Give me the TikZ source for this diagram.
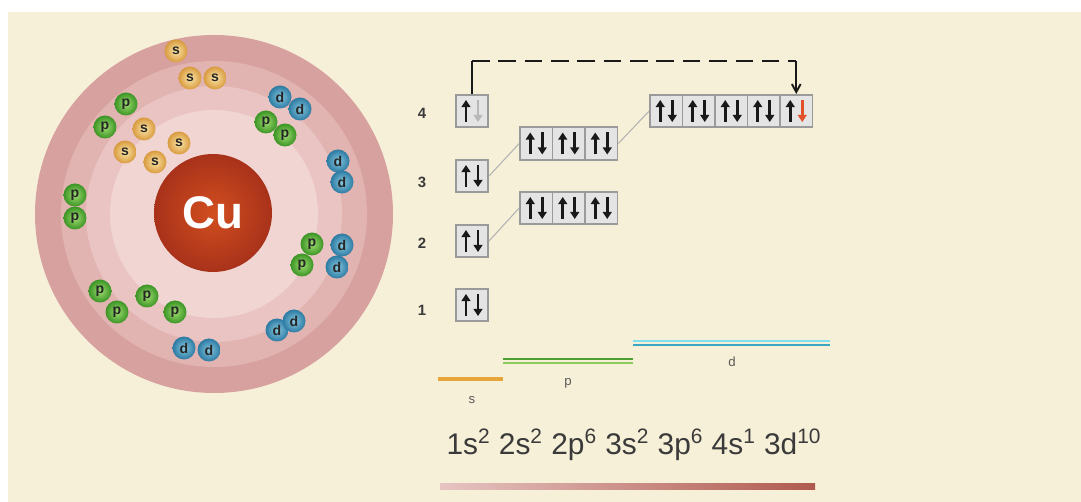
\documentclass[tikz,border=0pt]{standalone}
\usepackage{fontspec}
\setmainfont{Liberation Sans}
\usetikzlibrary{arrows.meta,calc}

\definecolor{cream}{HTML}{F7F0D8}
\definecolor{ringA}{HTML}{D7A19F}
\definecolor{ringB}{HTML}{E1B3B1}
\definecolor{ringC}{HTML}{E9C4C2}
\definecolor{ringD}{HTML}{F0D5D2}
\definecolor{nucIn}{HTML}{D24E1F}
\definecolor{nucOut}{HTML}{A8321A}
\definecolor{sIn}{HTML}{FCE6A8}
\definecolor{sOut}{HTML}{D89A3E}
\definecolor{pIn}{HTML}{A0DC70}
\definecolor{pOut}{HTML}{3A9424}
\definecolor{dIn}{HTML}{86C8E0}
\definecolor{dOut}{HTML}{2C7AA2}
\definecolor{boxfill}{HTML}{E4E4E4}
\definecolor{boxline}{HTML}{9A9A9A}
\definecolor{emptyspin}{HTML}{B8B8B8}
\definecolor{redspin}{HTML}{E2502A}
\definecolor{sline}{HTML}{E6A63A}
\definecolor{pdark}{HTML}{4C9E30}
\definecolor{plight}{HTML}{8CCB5E}
\definecolor{dlight}{HTML}{7EE0EE}
\definecolor{ddark}{HTML}{3AA6C0}
\definecolor{barL}{HTML}{E6C4C2}
\definecolor{barR}{HTML}{B05A4E}
\definecolor{inktext}{HTML}{3A3A3A}

% up/down spin arrows inside an orbital box
\newcommand\spinpair[3]{%
  \draw[spin,#2] ($(#1)+(-6,11)$) -- ($(#1)+(-6,-11)$);
  \draw[spin,#3] ($(#1)+(6,-11)$) -- ($(#1)+(6,11)$);}

\begin{document}
\begin{tikzpicture}[x=0.02cm,y=-0.02cm,
  electron/.style={circle, minimum size=0.46cm, inner sep=0pt,
    font=\fontsize{8}{8}\selectfont\bfseries, text=black!85},
  sel/.style={electron, inner color=sIn, outer color=sOut},
  pel/.style={electron, inner color=pIn, outer color=pOut},
  del/.style={electron, inner color=dIn, outer color=dOut},
  orbbox/.style={draw=boxline, fill=boxfill, line width=0.9pt,
    minimum width=0.65cm, minimum height=0.65cm, inner sep=0pt},
  spin/.style={line width=1.5pt, black!90, -{Triangle[length=4pt,width=5pt]}},
  lvl/.style={font=\fontsize{8.5}{8.5}\selectfont\bfseries, text=inktext},
  sublbl/.style={font=\fontsize{7.5}{8}\selectfont, text=black!65},
  link/.style={line width=1.1pt, black!90},
  guide/.style={line width=0.6pt, black!30},
]
\useasboundingbox (0,0) rectangle (1081,502);
\fill[white] (0,0) rectangle (1081,502);
\fill[cream] (8,12) rectangle (1081,502);

% ---- atom shells ----
\fill[ringA] (214,214) circle (179);
\fill[ringB] (214,214) circle (153);
\fill[ringC] (214,214) circle (128);
\fill[ringD] (214,214) circle (104);
\node[circle, minimum size=2.36cm, inner sep=0pt, inner color=nucIn, outer color=nucOut,
  text=white, font=\fontsize{26}{26}\selectfont\bfseries] (nuc) at (213,213) {Cu};

% s electrons
\node[sel] (e1) at (176,51) {s};
\node[sel] (e2) at (190,78) {s};
\node[sel] (e3) at (215,78) {s};
\node[sel] (e4) at (144,129) {s};
\node[sel] (e5) at (179,143) {s};
\node[sel] (e6) at (125,152) {s};
\node[sel] (e7) at (155,162) {s};
% p electrons
\node[pel] (e8) at (126,104) {p};
\node[pel] (e9) at (105,127) {p};
\node[pel] (e10) at (75,195) {p};
\node[pel] (e11) at (75,218) {p};
\node[pel] (e12) at (100,291) {p};
\node[pel] (e13) at (117,312) {p};
\node[pel] (e14) at (147,296) {p};
\node[pel] (e15) at (175,312) {p};
\node[pel] (e16) at (312,244) {p};
\node[pel] (e17) at (302,265) {p};
\node[pel] (e18) at (266,122) {p};
\node[pel] (e19) at (285,135) {p};
% d electrons
\node[del] (e20) at (184,348) {d};
\node[del] (e21) at (209,350) {d};
\node[del] (e22) at (277,330) {d};
\node[del] (e23) at (294,321) {d};
\node[del] (e24) at (342,245) {d};
\node[del] (e25) at (337,267) {d};
\node[del] (e26) at (338,161) {d};
\node[del] (e27) at (342,182) {d};
\node[del] (e28) at (280,97) {d};
\node[del] (e29) at (300,109) {d};

% ---- orbital diagram ----
\node[lvl] (l4) at (422,113) {4};
\node[lvl] (l3) at (422,182) {3};
\node[lvl] (l2) at (422,243) {2};
\node[lvl] (l1) at (422,310) {1};

\node[orbbox] (s4) at (472,111) {};
\node[orbbox] (s3) at (472,176) {};
\node[orbbox] (s2) at (472,241) {};
\node[orbbox] (s1) at (472,305) {};

\foreach \i/\x in {a/536.25,b/568.75,c/601.25}{
  \node[orbbox] (p3\i) at (\x,143.5) {};
  \node[orbbox] (p2\i) at (\x,208) {};
}
\foreach \i/\x in {1/666.25,2/698.75,3/731.25,4/763.75,5/796.25}{
  \node[orbbox] (d\i) at (\x,111) {};
}

% guide lines between sublevels
\draw[guide] (s2.east) -- (p2a.west);
\draw[guide] (s3.east) -- (p3a.west);
\draw[guide] (p3c.east) -- (d1.west);

% spins
\spinpair{s4}{}{emptyspin}
\spinpair{s3}{}{}
\spinpair{s2}{}{}
\spinpair{s1}{}{}
\foreach \i in {a,b,c}{\spinpair{p3\i}{}{}\spinpair{p2\i}{}{}}
\foreach \i in {1,2,3,4}{\spinpair{d\i}{}{}}
\spinpair{d5}{}{redspin}

% electron transfer 4s -> 3d
\coordinate (top) at (0,61);
\draw[link] (s4.north) -- (s4.north |- top) coordinate (tl);
\draw[link, dash pattern=on 10pt off 5pt] (tl) -- (d5.north |- top) coordinate (tr);
\draw[link, -{Straight Barb[length=4.5pt,width=5pt]}] (tr) -- (d5.north);

% energy levels
\draw[sline, line width=2.3pt] (438,379) -- (503,379);
\draw[pdark, line width=0.8pt] (503,359) -- (633,359);
\draw[plight, line width=0.8pt] (503,363) -- (633,363);
\draw[dlight, line width=0.8pt] (633,341) -- (830,341);
\draw[ddark, line width=0.8pt] (633,345) -- (830,345);
\node[sublbl] (ls) at (472,400) {s};
\node[sublbl] (lp) at (568,383) {p};
\node[sublbl] (ld) at (732,362) {d};

% configuration
\node[text=inktext, font=\fontsize{17}{20}\selectfont] (conf) at (634,445)
  {1s\textsuperscript{2} 2s\textsuperscript{2} 2p\textsuperscript{6} 3s\textsuperscript{2} 3p\textsuperscript{6} 4s\textsuperscript{1} 3d\textsuperscript{10}};
\shade[left color=barL, right color=barR] (440,484) rectangle (815,490);
\end{tikzpicture}
\end{document}
